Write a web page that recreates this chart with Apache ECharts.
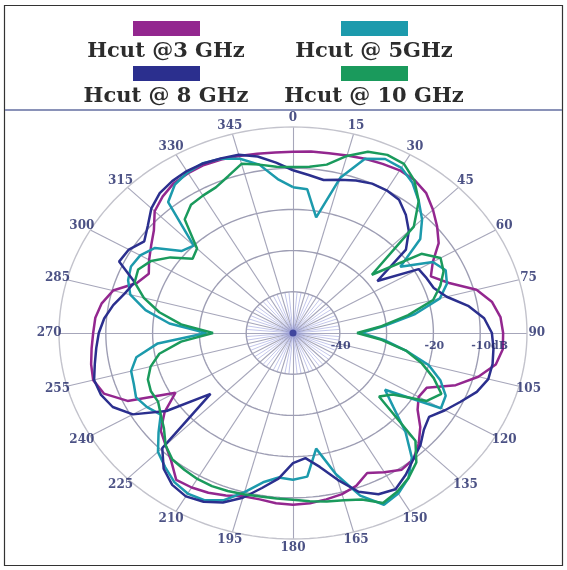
<!DOCTYPE html>
<html>
<head>
<meta charset="utf-8">
<title>Hcut radiation patterns</title>
<script src="https://cdn.jsdelivr.net/npm/echarts@6/dist/echarts.min.js"></script>
<style>
  html, body { margin: 0; padding: 0; background: #ffffff; }
  #chart { width: 567px; height: 570px; }
</style>
</head>
<body>
<div id="chart"></div>
<script>
// Azimuth samples (degrees, clockwise from top)
const ANGLES = [0,5,10,15,20,25,30,35,40,45,50,55,60,65,70,75,80,85,90,95,100,105,110,115,
  120,125,130,135,140,145,150,155,160,165,170,175,180,185,190,195,200,205,210,215,220,225,230,235,
  240,245,250,255,260,265,270,275,280,285,290,295,300,305,310,315,320,325,330,335,340,345,350,355];

// Gain in dB at each azimuth
const HCUT_3GHZ = [-6.0,-5.8,-5.7,-5.4,-5.0,-4.7,-4.4,-4.7,-5.7,-7.7,-9.8,-12.0,-15.5,-17.5,-14.5,-9.4,-6.8,-5.5,-5.1,-5.0,-6.0,-9.0,-13.0,-18.5,
  -19.0,-17.5,-14.5,-12.0,-10.0,-9.5,-11.0,-12.5,-10.5,-9.5,-9.0,-8.5,-8.3,-8.5,-9.0,-9.0,-8.0,-7.2,-6.7,-6.5,-9.5,-11.5,-13.1,-16.5,
  -21.0,-11.0,-7.0,-5.8,-6.2,-6.8,-7.3,-7.6,-8.5,-10.2,-14.5,-16.0,-14.5,-13.0,-11.2,-8.2,-6.7,-5.6,-5.2,-5.0,-5.2,-5.5,-5.8,-6.0];

const HCUT_5GHZ = [-14.6,-15.0,-21.5,-11.0,-5.0,-3.4,-3.7,-5.5,-8.2,-11.0,-14.5,-22.0,-15.5,-14.0,-15.0,-17.5,-23.5,-30.5,-35.5,-30.5,-25.5,-20.0,-16.5,-14.0,
  -13.5,-26.0,-22.0,-16.0,-10.5,-7.0,-5.0,-4.0,-8.0,-14.5,-21.5,-15.0,-14.4,-14.8,-13.2,-10.0,-6.8,-5.2,-5.0,-5.8,-7.5,-9.2,-12.5,-15.5,
  -14.0,-13.0,-13.8,-14.2,-16.0,-21.0,-31.5,-23.5,-18.0,-14.0,-12.5,-11.8,-12.3,-14.0,-19.0,-20.0,-8.5,-6.0,-5.0,-4.5,-5.0,-6.2,-8.5,-12.5];

const HCUT_8GHZ = [-10.5,-11.5,-12.3,-11.5,-10.6,-10.0,-10.0,-10.5,-12.5,-15.0,-18.5,-28.0,-19.0,-18.5,-18.0,-16.0,-12.0,-9.0,-7.5,-7.0,-6.7,-6.8,-8.2,-10.5,
  -12.5,-14.5,-13.5,-11.5,-10.0,-8.0,-6.2,-6.8,-9.0,-13.1,-17.0,-19.5,-18.4,-14.5,-11.8,-8.6,-6.2,-4.8,-4.2,-5.0,-7.0,-10.5,-27.0,-17.0,
  -10.5,-7.5,-6.3,-6.0,-7.0,-7.8,-8.5,-9.5,-11.0,-12.8,-14.0,-9.0,-9.5,-11.2,-9.5,-7.2,-5.7,-5.0,-4.6,-4.6,-4.9,-5.2,-6.5,-8.5];

const HCUT_10GHZ = [-9.7,-9.5,-8.5,-5.5,-3.2,-2.3,-2.6,-4.8,-8.2,-13.5,-28.0,-16.5,-13.6,-14.5,-16.5,-19.0,-25.0,-31.0,-36.3,-31.0,-25.5,-21.5,-18.0,-15.0,
  -17.0,-24.0,-26.0,-13.0,-9.0,-7.0,-5.5,-4.5,-7.0,-8.0,-8.5,-9.0,-9.5,-9.7,-9.7,-9.5,-9.2,-9.0,-9.1,-9.5,-9.9,-11.5,-14.0,-15.5,
  -16.7,-16.5,-17.0,-18.5,-21.0,-26.0,-32.9,-26.0,-21.0,-17.0,-14.0,-13.5,-15.0,-18.0,-22.0,-21.0,-14.0,-12.0,-11.5,-11.0,-9.5,-7.5,-8.5,-9.5];

const SERIES_NAMES = ['Hcut @3 GHz', 'Hcut @ 5GHz', 'Hcut @ 8 GHz', 'Hcut @ 10 GHz'];
const SERIES_COLORS = ['#93278f', '#1c9aac', '#2b2f8e', '#1a9a5c'];
const SERIES_VALUES = [HCUT_3GHZ, HCUT_5GHZ, HCUT_8GHZ, HCUT_10GHZ];

// Angular ticks and their labels
const ANGLE_TICKS = [0,15,30,45,60,75,90,105,120,135,150,165,180,195,210,225,240,255,270,285,300,315,330,345];
const ANGLE_TICK_LABELS = ['0','15','30','45','60','75','90','105','120','135','150','165',
  '180','195','210','225','240','255','270','285','300','315','330','345'];

// Radial scale (dB): centre, rings, labelled rings
const R_MIN = -50;
const R_MAX = 0;
const RING_DB = [-40, -30, -20, -10, 0];
const RADIAL_LABEL_DB = [-40, -20, -10];
const RADIAL_LABEL_TEXT = ['-40', '-20', '-10dB'];

// polar (azimuth, dB) -> plane coordinates in dB units from the centre
function toXY(deg, db) {
  const r = db - R_MIN;
  const a = deg * Math.PI / 180;
  return [r * Math.sin(a), r * Math.cos(a)];
}

function patternPoints(values) {
  const pts = ANGLES.map((a, i) => toXY(a, values[i]));
  pts.push(pts[0]);
  return pts;
}

function ringPoints(db) {
  const pts = [];
  for (let t = 0; t <= 360; t += 2) pts.push(toXY(t, db));
  return pts;
}

const SPAN = R_MAX - R_MIN;
const LABEL_FONT = 'DejaVu Serif';

const series = [];

// rings
RING_DB.forEach((db, k) => {
  series.push({
    type: 'line', data: ringPoints(db), showSymbol: false, silent: true, clip: false,
    lineStyle: { color: k === RING_DB.length - 1 ? '#c3c3cc' : '#9e9eb4', width: 1.4 },
    z: 1, animation: false
  });
});

// spokes every 15 degrees
series.push({
  type: 'lines', coordinateSystem: 'cartesian2d', silent: true, z: 1, animation: false,
  lineStyle: { color: '#a6a6ba', width: 1.1, opacity: 1, curveness: 0 },
  data: ANGLE_TICKS.map(a => ({ coords: [[0, 0], toXY(a, R_MAX)] }))
});

// dense short spokes near the centre
const innerSpokes = [];
for (let a = 0; a < 360; a += 5) {
  if (a % 15 !== 0) innerSpokes.push({ coords: [[0, 0], toXY(a, RING_DB[0])] });
}
series.push({
  type: 'lines', coordinateSystem: 'cartesian2d', silent: true, z: 1, animation: false,
  lineStyle: { color: '#9aa0dc', width: 0.8, opacity: 0.75, curveness: 0 },
  data: innerSpokes
});

// centre marker
series.push({
  type: 'scatter', data: [[0, 0]], symbolSize: 7, silent: true, z: 3, animation: false,
  itemStyle: { color: '#2b2f8e' }
});

// radiation patterns
SERIES_VALUES.forEach((vals, i) => {
  series.push({
    name: SERIES_NAMES[i], type: 'line', data: patternPoints(vals),
    showSymbol: false, clip: false, z: 5, animation: false,
    lineStyle: { color: SERIES_COLORS[i], width: 2.5 },
    itemStyle: { color: SERIES_COLORS[i] }
  });
});

// angle labels
series.push({
  type: 'scatter', silent: true, clip: false, z: 6, animation: false, symbolSize: 1,
  itemStyle: { color: 'rgba(0,0,0,0)' },
  data: ANGLE_TICKS.map((a, i) => ({ value: toXY(a, R_MAX + 2.1), name: ANGLE_TICK_LABELS[i] })),
  label: {
    show: true, position: 'inside', formatter: p => p.name,
    fontFamily: LABEL_FONT, fontWeight: 'bold', fontSize: 12, color: '#1f2766'
  }
});

// radial labels along the 90 degree spoke
series.push({
  type: 'scatter', silent: true, clip: false, z: 6, animation: false, symbolSize: 1,
  itemStyle: { color: 'rgba(0,0,0,0)' },
  data: RADIAL_LABEL_DB.map((db, i) => ({ value: toXY(90, db), name: RADIAL_LABEL_TEXT[i] })),
  label: {
    show: true, position: 'inside', formatter: p => p.name, align: 'left', offset: [-9, 13],
    fontFamily: LABEL_FONT, fontWeight: 'bold', fontSize: 11, color: '#1f2766'
  }
});

// legend: colour bar above each caption, two columns
const LEGEND_X = [166, 374];
const LEGEND_ROW_Y = [28, 73];
const legendGraphics = [];
SERIES_NAMES.forEach((name, i) => {
  const col = (i === 0 || i === 2) ? 0 : 1;
  const row = (i < 2) ? 0 : 1;
  const cx = LEGEND_X[col];
  const cy = LEGEND_ROW_Y[row];
  legendGraphics.push({
    type: 'rect', shape: { x: cx - 33, y: cy - 7, width: 67, height: 15 },
    style: { fill: SERIES_COLORS[i] }, silent: true
  });
  legendGraphics.push({
    type: 'text', x: cx, y: cy + 24,
    style: {
      text: name, fill: '#2c2c2c', font: 'bold 21px "DejaVu Serif"',
      textAlign: 'center', textVerticalAlign: 'middle'
    },
    silent: true
  });
});

const option = {
  backgroundColor: '#ffffff',
  animation: false,
  grid: { left: 59, top: 127, width: 468, height: 412, containLabel: false },
  xAxis: { type: 'value', min: -SPAN, max: SPAN, show: false },
  yAxis: { type: 'value', min: -SPAN, max: SPAN, show: false },
  graphic: [
    { type: 'rect', shape: { x: 4.5, y: 5.5, width: 558, height: 560 },
      style: { fill: 'none', stroke: '#333333', lineWidth: 1.2 }, silent: true, z: -1 },
    { type: 'line', shape: { x1: 5, y1: 110, x2: 562, y2: 110 },
      style: { stroke: '#8a92b8', lineWidth: 2 }, silent: true }
  ].concat(legendGraphics),
  series: series
};

const chart = echarts.init(document.getElementById('chart'), null, { renderer: 'canvas' });
chart.setOption(option);
</script>
</body>
</html>
